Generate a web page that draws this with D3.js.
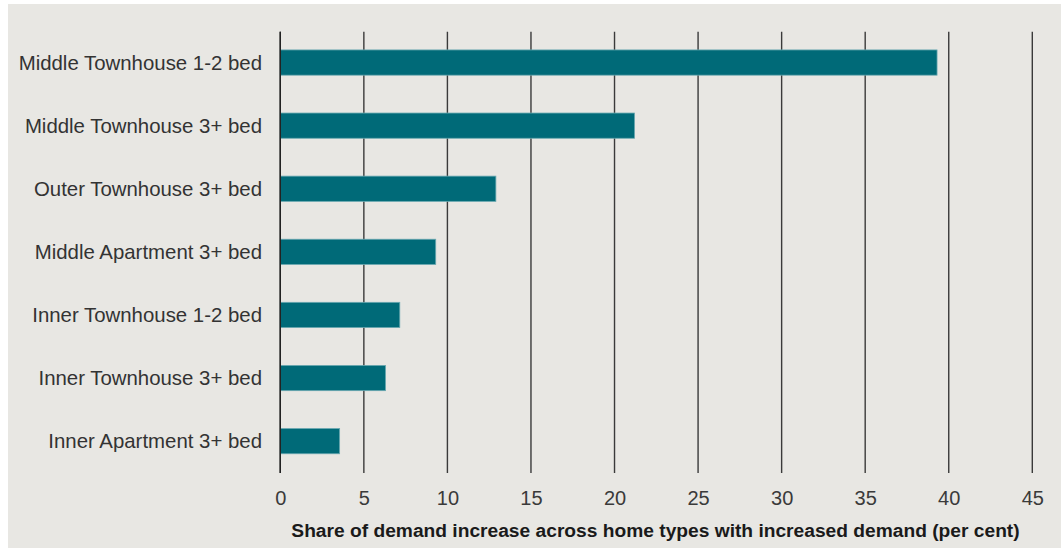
<!DOCTYPE html>
<html>
<head>
<meta charset="utf-8">
<script src="https://cdn.jsdelivr.net/npm/d3@7"></script>
<style>
  html, body { margin: 0; padding: 0; background: #ffffff; }
  svg { display: block; }
  text { font-family: "Liberation Sans", Arial, sans-serif; }
</style>
</head>
<body>
<svg id="chart" width="1061" height="548"></svg>
<script>
const categories = [
  "Middle Townhouse 1-2 bed",
  "Middle Townhouse 3+ bed",
  "Outer Townhouse 3+ bed",
  "Middle Apartment 3+ bed",
  "Inner Townhouse 1-2 bed",
  "Inner Townhouse 3+ bed",
  "Inner Apartment 3+ bed"
];
const values = [39.3, 21.2, 12.9, 9.3, 7.15, 6.3, 3.55];
const xTicks = [0, 5, 10, 15, 20, 25, 30, 35, 40, 45];
const xTitle = "Share of demand increase across home types with increased demand (per cent)";

const svg = d3.select("#chart");
const W = 1061, H = 548;

svg.append("rect").attr("x", 8).attr("y", 4).attr("width", W - 8).attr("height", H - 4).attr("fill", "#e8e7e3");

const x = d3.scaleLinear().domain([0, 45]).range([280.3, 1032.3]);
const y = d3.scaleBand().domain(categories).range([31, 472.7]).paddingInner(0.6).paddingOuter(0.3);

const gridTop = 31.7, gridBottom = 473;

// gridlines
svg.append("g").selectAll("line").data(xTicks).join("line")
  .attr("x1", d => x(d)).attr("x2", d => x(d))
  .attr("y1", gridTop).attr("y2", gridBottom)
  .attr("stroke", d => d === 0 ? "#222" : "#3a3a3a")
  .attr("stroke-width", 1.4);

// bars
svg.append("g").selectAll("rect").data(categories).join("rect")
  .attr("x", x(0))
  .attr("y", d => y(d))
  .attr("width", (d, i) => x(values[i]) - x(0))
  .attr("height", y.bandwidth())
  .attr("fill", "#006a78")
  .attr("stroke", "#6aa9b1")
  .attr("stroke-width", 0.8);

// zero line on top
svg.append("line").attr("x1", x(0)).attr("x2", x(0)).attr("y1", gridTop).attr("y2", gridBottom)
  .attr("stroke", "#222").attr("stroke-width", 1.4);

// x axis (labels only)
const xAxis = d3.axisBottom(x).tickValues(xTicks).tickSize(0).tickPadding(0).tickFormat(d3.format("d"));
const gx = svg.append("g").attr("transform", `translate(0, ${gridBottom})`).call(xAxis);
gx.select(".domain").remove();
gx.selectAll("text").attr("dy", null).attr("y", 32).attr("font-size", 20).attr("fill", "#3a3a3a")
  .style("font-family", '"Liberation Sans", Arial, sans-serif');

// y axis labels
const yAxis = d3.axisLeft(y).tickSize(0).tickPadding(0);
const gy = svg.append("g").attr("transform", `translate(262, 0)`).call(yAxis);
gy.select(".domain").remove();
gy.selectAll("text").attr("x", 0).attr("dy", "0.35em").attr("font-size", 20.4).attr("fill", "#333")
  .style("font-family", '"Liberation Sans", Arial, sans-serif');

// axis title
svg.append("text").attr("x", 655.5).attr("y", 537).attr("text-anchor", "middle")
  .attr("font-size", 19.2).attr("font-weight", "bold").attr("fill", "#1a1a1a")
  .text(xTitle);
</script>
</body>
</html>
